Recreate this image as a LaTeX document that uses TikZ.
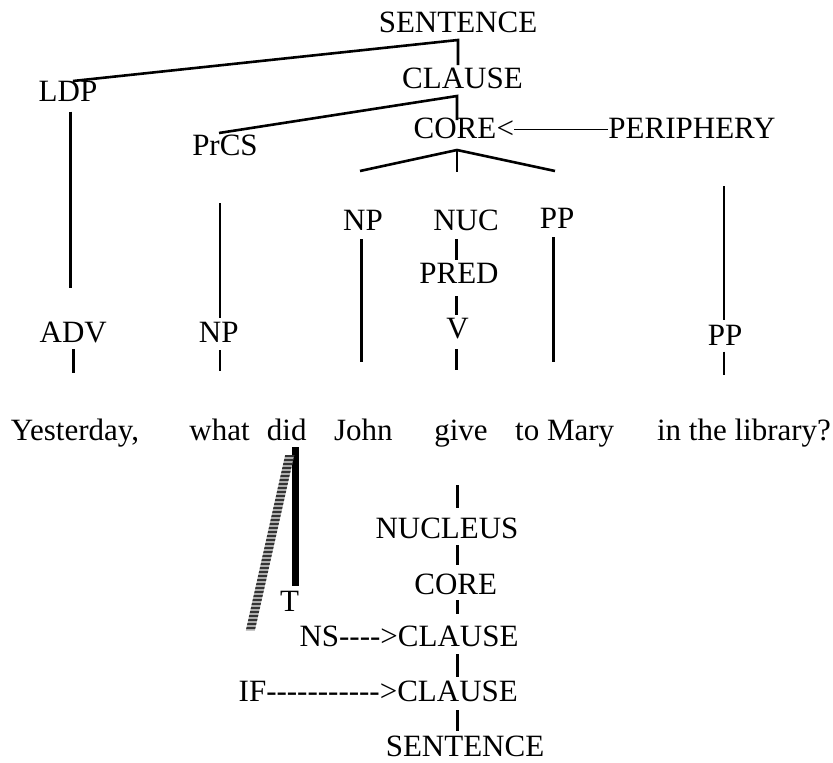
\documentclass[tikz,border=0pt]{standalone}
\usepackage{fontspec}
\setmainfont{Liberation Serif}[Ligatures=TeXOff]
\begin{document}
\begin{tikzpicture}[x=1pt,y=-1pt,
  lbl/.style={anchor=base,inner sep=0pt,font=\fontsize{31}{37}\selectfont},
  branch/.style={line width=2.6pt},
  thinrule/.style={line width=1.1pt},
  tracebar/.style={line width=7.3pt},
]
\useasboundingbox (0,0) rectangle (833,763);

% ---- upper tree labels ----
\node[lbl] (senttop) at (458,32.3) {SENTENCE};
\node[lbl] (clause) at (462.5,88.3) {CLAUSE};
\node[lbl] (ldp) at (68,101.7) {LDP};
\node[lbl] (prcs) at (225,155) {PrCS};
\node[lbl] (core) at (455,138.8) {CORE};
\node[lbl,anchor=base west] (lt) at (core.base east) {<};
\node[lbl] (periphery) at (692,138.8) {PERIPHERY};
\node[lbl] (np1) at (363,230.7) {NP};
\node[lbl] (nuc) at (466,230.7) {NUC};
\node[lbl] (pp1) at (557,228.3) {PP};
\node[lbl] (pred) at (459,283.3) {PRED};
\node[lbl] (v) at (457.5,338.3) {V};
\node[lbl] (adv) at (73.3,342.7) {ADV};
\node[lbl] (np2) at (218.8,342.7) {NP};
\node[lbl] (pp2) at (725,345) {PP};

% ---- the sentence ----
\node[lbl] (w1) at (75,440) {Yesterday,};
\node[lbl] (w2) at (219.5,440) {what};
\node[lbl] (w3) at (286.8,440) {did};
\node[lbl] (w4) at (363.3,440) {John};
\node[lbl] (w5) at (461,440) {give};
\node[lbl] (w6) at (564.7,440) {to Mary};
\node[lbl] (w7) at (744,440) {in the library?};

% ---- lower projection labels ----
\node[lbl] (nucleus) at (447,538.3) {NUCLEUS};
\node[lbl] (core2) at (455.7,594) {CORE};
\node[lbl] (tns) at (289.7,611.7) {T};
\node[lbl,anchor=base west] (ns) at (299.3,646.7) {NS---->CLAUSE};
\node[lbl,anchor=base west] (if) at (238.5,701.7) {IF----------->CLAUSE};
\node[lbl] (sentbot) at (465,756.8) {SENTENCE};

% ---- branch points and line ends ----
\coordinate (sTop) at (458,40);
\coordinate (sLow) at (458,65);
\coordinate (ldpEnd) at (73,81);
\coordinate (cTop) at (457,96);
\coordinate (cLow) at (457,120);
\coordinate (prcsEnd) at (219,133);
\coordinate (coreTop) at (457,150);
\coordinate (coreLow) at (457,172);
\coordinate (coreL) at (360,171);
\coordinate (coreR) at (555,171);

\draw[branch] (ldpEnd) -- (sTop) -- (sLow);
\draw[branch] (prcsEnd) -- (cTop) -- (cLow);
\draw[branch] (coreL) -- (coreTop) -- (coreR);
\draw[branch] (coreTop) -- (coreLow);
\draw[thinrule] (lt.east) -- (lt.east -| periphery.west);

% long vertical stems
\coordinate (ldpA) at (70.7,111.7);  \coordinate (ldpB) at (70.7,288);
\coordinate (prcsA) at (220,203);    \coordinate (prcsB) at (220,318.3);
\coordinate (np1A) at (361.7,239.3); \coordinate (np1B) at (361.7,361.7);
\coordinate (pp1A) at (553.3,237.3); \coordinate (pp1B) at (553.3,361.7);
\coordinate (perA) at (724,186);     \coordinate (perB) at (724,320);
\draw[branch] (ldpA) -- (ldpB);
\draw[branch] (prcsA) -- (prcsB);
\draw[branch] (np1A) -- (np1B);
\draw[branch] (pp1A) -- (pp1B);
\draw[branch] (perA) -- (perB);

% short ticks
\coordinate (t1a) at (456.7,239.3); \coordinate (t1b) at (456.7,260);
\coordinate (t2a) at (456.7,296);   \coordinate (t2b) at (456.7,315);
\coordinate (t3a) at (456.7,349.3); \coordinate (t3b) at (456.7,370);
\coordinate (t4a) at (73.3,349.3);  \coordinate (t4b) at (73.3,373.3);
\coordinate (t5a) at (220,350);     \coordinate (t5b) at (220,370.7);
\coordinate (t6a) at (724,351.7);   \coordinate (t6b) at (724,375);
\foreach \a/\b in {t1a/t1b,t2a/t2b,t3a/t3b,t4a/t4b,t5a/t5b,t6a/t6b}
  \draw[branch] (\a) -- (\b);

% lower stem
\coordinate (u1a) at (457.7,485); \coordinate (u1b) at (457.7,508.3);
\coordinate (u2a) at (457.7,545); \coordinate (u2b) at (457.7,565);
\coordinate (u3a) at (457.7,600); \coordinate (u3b) at (457.7,614);
\coordinate (u4a) at (457.7,654); \coordinate (u4b) at (457.7,676.7);
\coordinate (u5a) at (457.7,710); \coordinate (u5b) at (457.7,730.7);
\foreach \a/\b in {u1a/u1b,u2a/u2b,u3a/u3b,u4a/u4b,u5a/u5b}
  \draw[branch] (\a) -- (\b);

% tense operator bar
\coordinate (barTop) at (295.7,447);
\coordinate (barLow) at (295.7,585.7);
\draw[tracebar] (barTop) -- (barLow);

% striped bar
\begin{scope}
  \clip (285.2,455) -- (294.2,455) -- (254.8,630.7) -- (245.8,630.7) -- cycle;
  \fill[gray!65] (240,450) rectangle (300,635);
  \foreach \yy in {456,460,...,632}
    \draw[line width=2pt,black!80] (240,\yy) -- (300,\yy);
\end{scope}
\end{tikzpicture}
\end{document}
